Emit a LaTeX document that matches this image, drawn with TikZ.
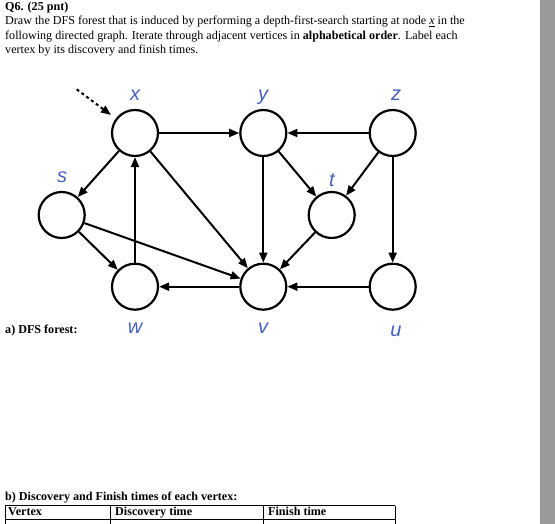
\documentclass[tikz,border=0pt]{standalone}
\usepackage{fontspec}
\setmainfont{Liberation Serif}
\newfontfamily\lblfont{Liberation Sans}
\usetikzlibrary{arrows.meta}
\definecolor{lblblue}{RGB}{68,98,190}
\begin{document}
\begin{tikzpicture}[x=1pt, y=-1pt,
  vert/.style={draw, circle, line width=2.2pt, minimum size=46pt, inner sep=0pt},
  vlbl/.style={font=\lblfont\itshape\fontsize{20}{20}\selectfont, text=lblblue, inner sep=0pt},
  edge/.style={line width=2pt, -{Triangle[length=10pt,width=8pt]}},
  txt/.style={anchor=base west, inner sep=0pt, font=\fontsize{12.1}{13}\selectfont},
  hdr/.style={anchor=base west, inner sep=0pt, font=\fontsize{12.1}{13}\selectfont\bfseries},
]
\useasboundingbox (0,0) rectangle (555,524);
\fill[black!40] (539.5,0) rectangle (555,524);

% question text
\node[hdr] (q)  at (5,10.7) {Q6. (25 pnt)};
\node[txt] (l1) at (5,25)   {Draw the DFS forest that is induced by performing a depth-first-search starting at node \underline{\textit{x}} in the};
\node[txt] (l2) at (5,39.3) {following directed graph. Iterate through adjacent vertices in \textbf{alphabetical order}. Label each};
\node[txt] (l3) at (5,53.5) {vertex by its discovery and finish times.};

% vertices
\node[vert] (x) at (135,133)   {};
\node[vert] (y) at (263.3,133) {};
\node[vert] (z) at (392.7,133) {};
\node[vert] (s) at (61.7,215)  {};
\node[vert] (t) at (331.7,215) {};
\node[vert] (w) at (135,286.7) {};
\node[vert] (v) at (263.3,286.7) {};
\node[vert] (u) at (392.7,286.7) {};

\node[vlbl] (xl) at (135,95)  {x};
\node[vlbl] (yl) at (263,97)  {y};
\node[vlbl] (zl) at (396,95)  {z};
\node[vlbl] (sl) at (62,177)  {s};
\node[vlbl] (tl) at (332,180) {t};
\node[vlbl] (wl) at (135,328) {w};
\node[vlbl] (vl) at (263,328) {v};
\node[vlbl] (ul) at (396,331) {u};

% start marker
\coordinate (entry) at (76.7,89.3);
\draw[edge, dashed, shorten >=6pt] (entry) -- (x);

% edges
\draw[edge] (x) -- (y);
\draw[edge] (z) -- (y);
\draw[edge] (x) -- (s);
\draw[edge] (w) -- (x);
\draw[edge] (x) -- (v);
\draw[edge] (y) -- (v);
\draw[edge] (y) -- (t);
\draw[edge] (z) -- (t);
\draw[edge] (z) -- (u);
\draw[edge] (s) -- (w);
\draw[edge] (s) -- (v);
\draw[edge] (t) -- (v);
\draw[edge] (v) -- (w);
\draw[edge] (u) -- (v);

% answer parts
\node[hdr] (pa) at (5,333) {a) DFS forest:};
\node[hdr] (pb) at (5,500) {b) Discovery and Finish times of each vertex:};

% table
\draw[line width=0.9pt] (5,505.5) -- (395,505.5) (5,519) -- (395,519)
  (5,505.5) -- (5,524) (110,505.5) -- (110,524)
  (263,505.5) -- (263,524) (395,505.5) -- (395,524);
\node[hdr] (c1) at (8,515)   {Vertex};
\node[hdr] (c2) at (115,515) {Discovery time};
\node[hdr] (c3) at (268,515) {Finish time};
\end{tikzpicture}
\end{document}
